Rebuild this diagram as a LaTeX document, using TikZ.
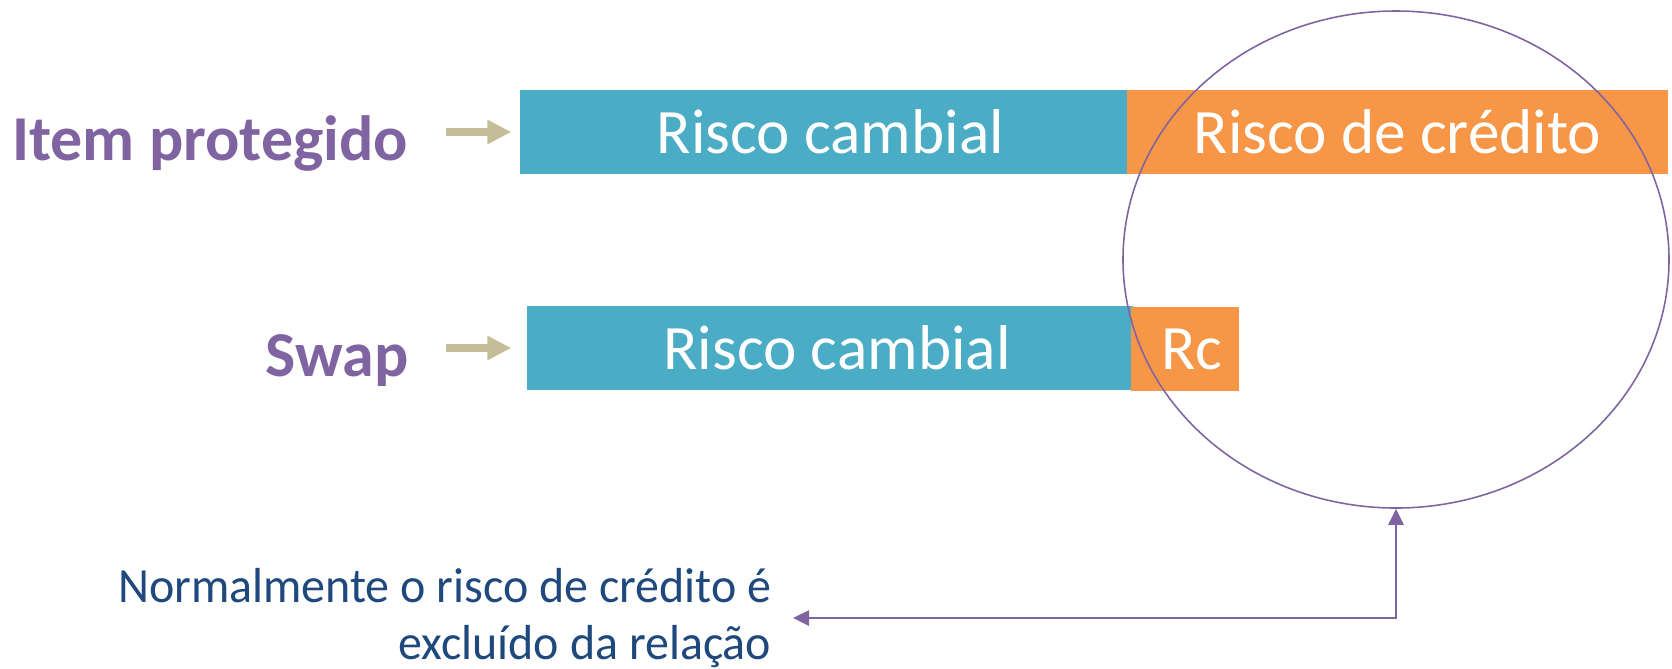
\documentclass[tikz,border=0pt]{standalone}
\usepackage{fontspec}
\setmainfont{Carlito}
\newfontfamily\remarkfont[FakeStretch=0.975]{Carlito}
\usepackage{tikz}
\usetikzlibrary{arrows.meta,shapes.geometric}
\definecolor{lilac}{HTML}{8064A2}
\definecolor{teal}{HTML}{4BACC6}
\definecolor{tangerine}{HTML}{F79646}
\definecolor{sand}{HTML}{C4BD97}
\definecolor{navy}{HTML}{1F497D}
\newcommand{\nudge}{\hspace*{1.4mm}}
\tikzset{%
  bar/.style     = {rectangle, inner sep=0pt, minimum height=8.4mm,%
                    text=white, font=\fontsize{18}{21}\selectfont},%
  fx/.style      = {bar, fill=teal},%
  credit/.style  = {bar, fill=tangerine},%
  tag/.style     = {inner sep=0pt, text=lilac,%
                    font=\bfseries\fontsize{18.2}{22}\selectfont},%
  feed/.style    = {draw=sand, line width=2.3pt,%
                    -{Triangle[length=2.4mm,width=2.3mm]}},%
  ring/.style    = {ellipse, draw=lilac, line width=0.45pt, inner sep=0pt},%
  link/.style    = {draw=lilac, line width=0.75pt,%
                    {Triangle[length=1.6mm,width=1.5mm]}-{Triangle[length=1.6mm,width=1.5mm]}},%
  remark/.style  = {inner sep=0pt, align=right, text=navy,%
                    font=\remarkfont\fontsize{14}{16}\selectfont}%
}
\begin{document}
\begin{tikzpicture}[x=0.1mm,y=-0.1mm]
	\useasboundingbox (0,0) rectangle (1672,668);
	% hedged item
	\node [fx, minimum width=6.07cm] (fxtop) at (823.5,132) {\nudge Risco cambial};
	\node [credit, minimum width=5.41cm] (crtop) at (1397.5,132) {Risco de crédito};
	\node [tag, anchor=base east] (item) at (409,160) {Item protegido};
	\draw [feed] (item.east |- fxtop.west) ++(37,0) -- ([xshift=-0.8mm]fxtop.west);
	% swap
	\node [fx, minimum width=6.06cm] (fxbot) at (830,348) {\nudge Risco cambial};
	\node [credit, minimum width=1.08cm] (crbot) at (1185,349) {\nudge Rc};
	\node [tag, anchor=base east] (swap) at (409,376) {Swap};
	\draw [feed] (swap.east |- fxbot.west) ++(37,0) -- ([xshift=-1.5mm]fxbot.west);
	% excluded part
	\node [ring, minimum width=5.46cm, minimum height=4.97cm] (zone) at (1396,259.5) {};
	\node [remark, anchor=east] (note) at (772,618)
		{Normalmente o risco de crédito é\\excluído da relação};
	\draw [link] ([xshift=2.1mm]note.east) -| (zone.south);
\end{tikzpicture}
\end{document}
